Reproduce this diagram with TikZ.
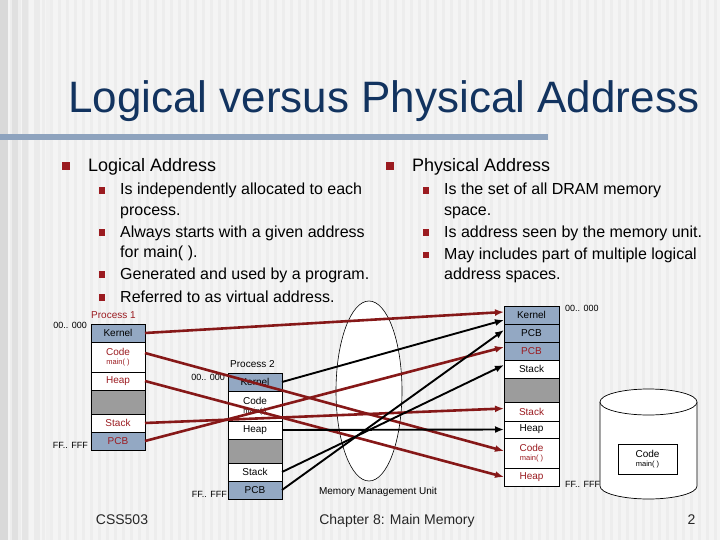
\documentclass[tikz,border=0pt]{standalone}
\usepackage{fontspec}
\setmainfont{Liberation Sans}
\usetikzlibrary{arrows.meta,calc}
\definecolor{titlecol}{HTML}{12335F}
\definecolor{bulred}{HTML}{9B1B20}
\definecolor{lnred}{HTML}{861818}
\definecolor{kern}{HTML}{93A8C3}
\definecolor{gfill}{HTML}{9C9C9C}
\definecolor{rulecol}{HTML}{8EA3BE}
\definecolor{bgbase}{HTML}{F4F4F4}
\definecolor{bgstripe}{HTML}{EDEDED}
\tikzset{
 cell/.style={draw=black, line width=0.7pt, fill=white, minimum width=54pt, minimum height=18pt, inner sep=0pt, outer sep=0pt, anchor=north west, align=center, font=\fontsize{10}{10.5}\selectfont},
 kcell/.style={cell, fill=kern},
 gcell/.style={cell, fill=gfill, minimum height=24pt},
 ccell/.style={cell, minimum height=30pt},
 lbl/.style={inner sep=0pt, font=\fontsize{10}{12}\selectfont},
 addr/.style={inner sep=0pt, font=\fontsize{9}{11}\selectfont},
 redln/.style={draw=lnred, line width=2.6pt, -{Latex[length=9pt,width=7pt]}},
 blkln/.style={draw=black, line width=1.9pt, -{Latex[length=9pt,width=7pt]}},
 bulA/.style={fill=bulred, minimum size=7.5pt, inner sep=0pt, outer sep=0pt},
 bulB/.style={fill=bulred, minimum size=6.5pt, inner sep=0pt, outer sep=0pt},
 txA/.style={inner sep=0pt, anchor=base west, font=\fontsize{18}{21}\selectfont},
 txB/.style={inner sep=0pt, anchor=base west, font=\fontsize{16}{19}\selectfont},
 foot/.style={inner sep=0pt, anchor=base, font=\fontsize{14}{16}\selectfont, text=black!85},
}
\newcommand\mainsm{\fontsize{7.5}{8}\selectfont main( )}
\begin{document}
\begin{tikzpicture}[x=1pt,y=-1pt]
\useasboundingbox (0,0) rectangle (720,540);
% background
\fill[bgbase] (0,0) rectangle (720,540);
\foreach \x in {2,10,...,718} \fill[bgstripe] (\x,0) rectangle ++(3,540);
\fill[black!15] (0,0) rectangle (8,540);
\fill[black!12] (12,0) rectangle (18,540);
\fill[black!10] (22,0) rectangle (28,540);
\fill[black!8] (34,0) rectangle (40,540);
\fill[black!6] (46,0) rectangle (50,540);
% title
\node[anchor=base west, inner sep=0pt, text=titlecol, font=\fontsize{44}{50}\selectfont] (title) at (68,113) {Logical versus Physical Address};
\fill[rulecol] (0,134.5) rectangle (548,140);
% left bullets
\node[bulA] (bl1) at (66,166) {};
\node[txA] (tl1) at (88,171.5) {Logical Address};
\node[bulB] (bl2) at (102,190.5) {};
\node[txB] (tl2a) at (120,195) {Is independently allocated to each};
\node[txB] (tl2b) at (120,215) {process.};
\node[bulB] (bl3) at (102,232.5) {};
\node[txB] (tl3a) at (120,237) {Always starts with a given address};
\node[txB] (tl3b) at (120,257) {for main( ).};
\node[bulB] (bl4) at (102,274.5) {};
\node[txB] (tl4) at (120,279) {Generated and used by a program.};
\node[bulB] (bl5) at (102,297.5) {};
\node[txB] (tl5) at (120,302) {Referred to as virtual address.};
% right bullets
\node[bulA] (br1) at (390,166) {};
\node[txA] (tr1) at (412,171.5) {Physical Address};
\node[bulB] (br2) at (426,190.5) {};
\node[txB] (tr2a) at (444,195) {Is the set of all DRAM memory};
\node[txB] (tr2b) at (444,215) {space.};
\node[bulB] (br3) at (426,232.5) {};
\node[txB] (tr3) at (444,237) {Is address seen by the memory unit.};
\node[bulB] (br4) at (426,255) {};
\node[txB] (tr4a) at (444,259.5) {May includes part of multiple logical};
\node[txB] (tr4b) at (444,279) {address spaces.};
% MMU
\draw[fill=white, line width=0.6pt] (369,391) ellipse [x radius=33, y radius=90];
\node[lbl, anchor=base] (mmu) at (378,494) {Memory Management Unit};
% disk cylinder
\fill[white] (600,402) -- (600,486) arc[start angle=180, end angle=0, x radius=48.5, y radius=13] -- (697,402) -- cycle;
\draw[line width=0.7pt] (600,402) -- (600,486) arc[start angle=180, end angle=0, x radius=48.5, y radius=13] -- (697,402);
\draw[fill=white, line width=0.7pt] (648.5,402) ellipse [x radius=48.5, y radius=13];
\node[cell, minimum width=59pt, minimum height=30pt] (dcode) at (618,444) {Code\\[-1pt]\mainsm};
% Process 1
\node[lbl, anchor=west, text=bulred] (p1lab) at (91,315) {Process 1};
\node[addr, anchor=east] (p1top) at (87,325) {00.. 000};
\node[addr, anchor=east] (p1bot) at (88,445) {FF.. FFF};
\node[kcell] (p1k) at (91,324) {Kernel};
\node[ccell, text=bulred] (p1c) at (91,342) {Code\\[-1pt]\mainsm};
\node[cell, text=bulred] (p1h) at (91,372) {Heap};
\node[gcell] (p1g) at (91,390) {};
\node[cell, text=bulred] (p1s) at (91,414) {Stack};
\node[kcell, text=bulred] (p1p) at (91,432) {PCB};
% Process 2
\node[lbl, anchor=west] (p2lab) at (230,364) {Process 2};
\node[addr, anchor=east] (p2top) at (225,377) {00.. 000};
\node[addr, anchor=east] (p2bot) at (227,494) {FF.. FFF};
\node[kcell] (p2k) at (228,373) {Kernel};
\node[ccell] (p2c) at (228,391) {Code\\[-1pt]\mainsm};
\node[cell] (p2h) at (228,421) {Heap};
\node[gcell] (p2g) at (228,439) {};
\node[cell] (p2s) at (228,463) {Stack};
\node[kcell] (p2p) at (228,481) {PCB};
% Physical memory
\node[addr, anchor=west] (mtop) at (565,308) {00.. 000};
\node[addr, anchor=west] (mbot) at (565,484) {FF.. FFF};
\node[kcell, minimum width=55pt] (mk) at (504,306) {Kernel};
\node[kcell, minimum width=55pt] (mp1) at (504,324) {PCB};
\node[kcell, minimum width=55pt, text=bulred] (mp2) at (504,342) {PCB};
\node[cell, minimum width=55pt] (ms1) at (504,360) {Stack};
\node[gcell, minimum width=55pt] (mg) at (504,378) {};
\node[cell, minimum width=55pt, minimum height=19pt, text=bulred] (ms2) at (504,402) {Stack};
\node[cell, minimum width=55pt, minimum height=17pt] (mh1) at (504,421) {Heap};
\node[ccell, minimum width=55pt, text=bulred] (mc) at (504,438) {Code\\[-1pt]\mainsm};
\node[cell, minimum width=55pt, text=bulred] (mh2) at (504,468) {Heap};
% connectors
\draw[redln] (p1k.east) -- ($(mk.west)+(0,-3)$);
\draw[redln] ($(p1c.east)+(0,-4)$) -- ($(mc.west)+(0,-2)$);
\draw[redln] (p1h.east) -- (mh2.west);
\draw[redln] (p1s.east) -- ($(ms2.west)+(0,-3)$);
\draw[redln] (p1p.east) -- ($(mp2.west)+(0,-4)$);
\draw[blkln] (p2k.east) -- ($(mk.west)+(0,5)$);
\draw[blkln] (p2p.east) -- ($(mp1.west)+(0,-3)$);
\draw[blkln] (p2s.east) -- ($(ms1.west)+(0,-4)$);
\draw[blkln] (p2h.east) -- (mh1.west);
% footer
\node[foot] (f1) at (122,524) {CSS503};
\node[foot] (f2) at (397,524) {Chapter 8: Main Memory};
\node[foot] (f3) at (691.5,524) {2};
\end{tikzpicture}
\end{document}
